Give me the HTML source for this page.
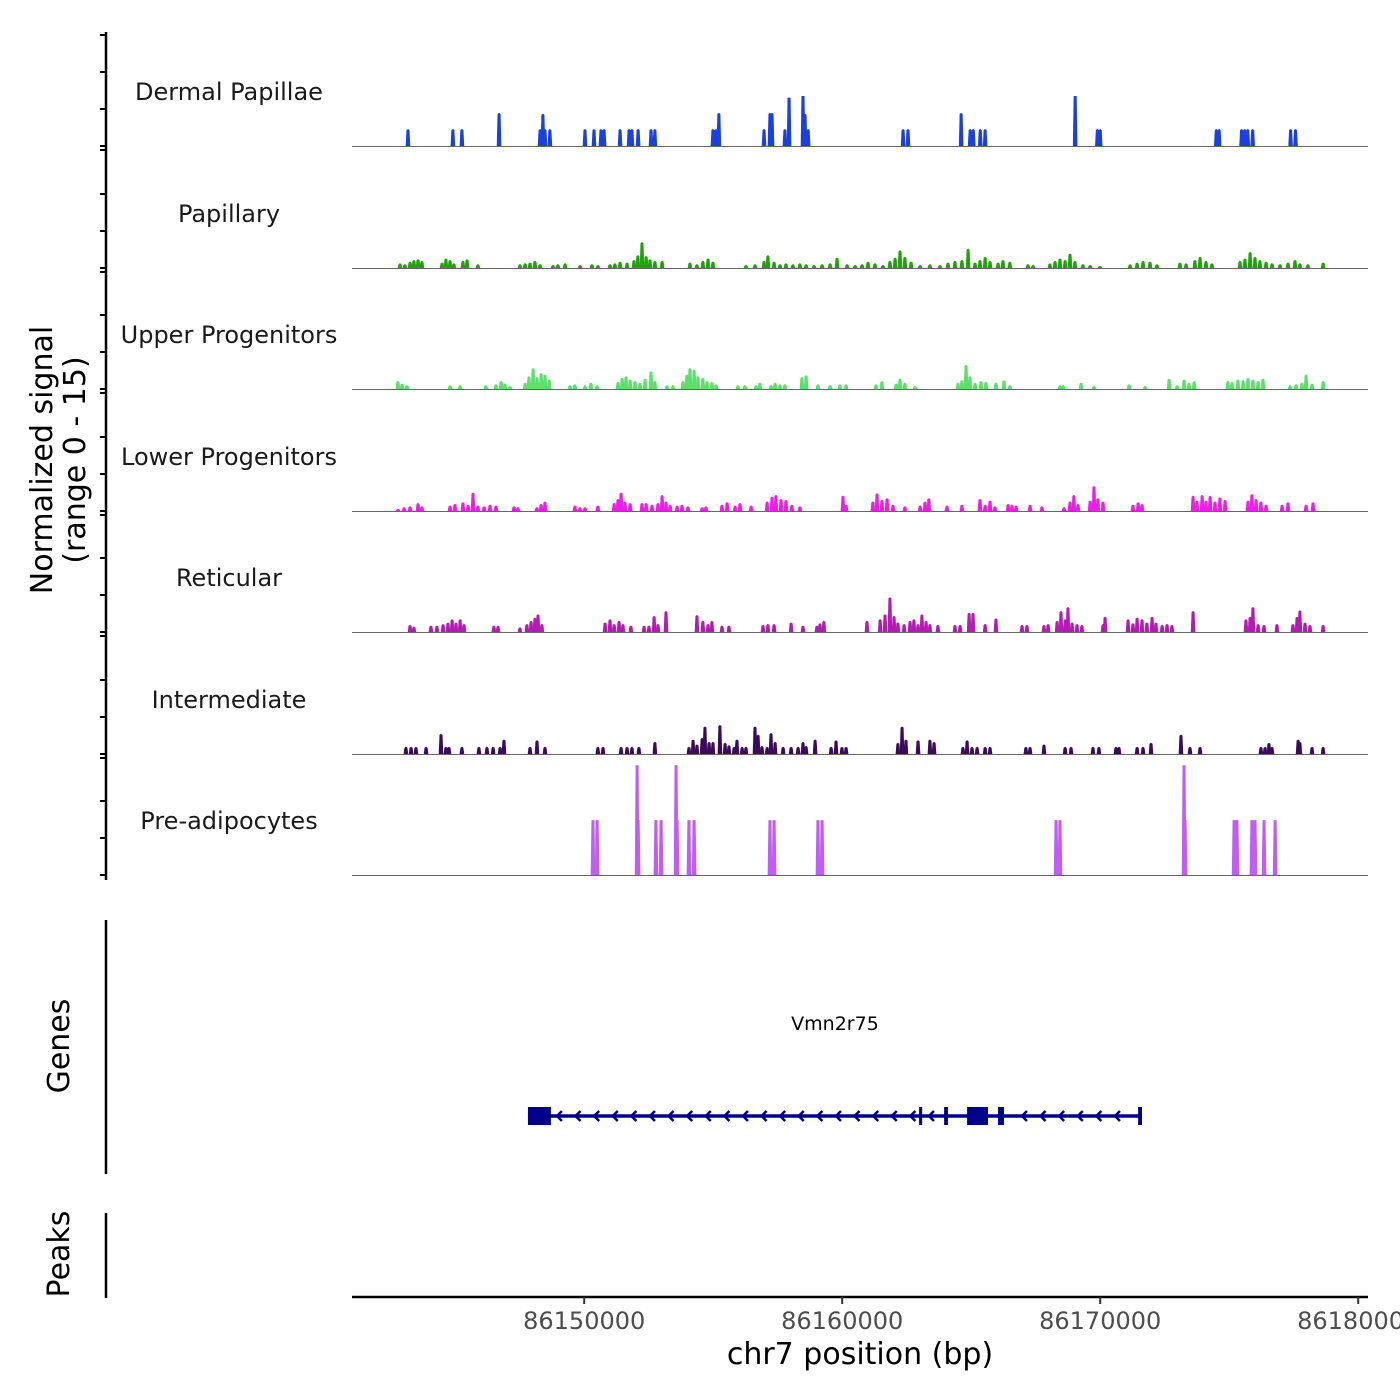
<!DOCTYPE html>
<html><head><meta charset="utf-8">
<style>
html,body{margin:0;padding:0;background:#fff;}
svg{display:block;font-family:"DejaVu Sans","Liberation Sans",sans-serif;}
</style></head>
<body>
<svg id="chart" width="1400" height="1400" viewBox="0 0 1400 1400" xmlns="http://www.w3.org/2000/svg">
<g id="tracks"></g>
<g id="yaxis"></g>
<text transform="translate(52,460) rotate(-90)" text-anchor="middle" font-size="30" fill="#000">Normalized signal</text>
<text transform="translate(85,460) rotate(-90)" text-anchor="middle" font-size="30" fill="#000">(range 0 - 15)</text>
<line x1="106" y1="920" x2="106" y2="1174" stroke="#000" stroke-width="2.5"/>
<text transform="translate(69,1046) rotate(-90)" text-anchor="middle" font-size="30" fill="#000">Genes</text>
<line x1="106" y1="1213" x2="106" y2="1298" stroke="#000" stroke-width="2.5"/>
<text transform="translate(69,1254) rotate(-90)" text-anchor="middle" font-size="30" fill="#000">Peaks</text>
<g id="genes"></g>
<g id="xaxis"></g>
<text x="860" y="1364" text-anchor="middle" font-size="30" fill="#000">chr7 position (bp)</text>
</svg>
<script>
// ---- data (positions in kb on chr7, signal in normalized units) ----
const trackNames = ["Dermal Papillae","Papillary","Upper Progenitors","Lower Progenitors","Reticular","Intermediate","Pre-adipocytes"];
const trackColors = ["#1a3fe2","#22a20a","#5ddf6b","#ec20e4","#b51bb3","#3b0a5c","#c25cf6"];
const xTicks = [86150,86160,86170,86180];
const xTickLabels = ["86150000","86160000","86170000","86180000"];

const dermal = [[86143.17,2.1],[86144.91,2.1],[86145.26,2.1],[86146.70,4.1],[86148.29,2.1],[86148.40,4.0],[86148.48,2.1],[86148.67,2.1],[86150.03,2.1],[86150.38,2.1],[86150.65,2.1],[86150.77,2.1],[86151.39,2.1],[86151.74,2.1],[86151.85,2.1],[86152.09,2.1],[86152.59,2.1],[86152.74,2.1],[86154.99,2.1],[86155.11,2.1],[86155.22,4.1],[86156.97,2.1],[86157.20,4.1],[86157.28,4.1],[86157.78,2.1],[86157.94,6.0],[86158.48,6.2],[86158.56,4.0],[86158.68,2.1],[86162.36,2.1],[86162.55,2.1],[86164.61,4.1],[86164.96,2.1],[86165.08,2.1],[86165.35,2.1],[86165.54,2.1],[86169.03,6.2],[86169.89,2.1],[86170.00,2.1],[86174.50,2.1],[86174.61,2.1],[86175.48,2.1],[86175.60,2.1],[86175.72,2.1],[86175.91,2.1],[86177.38,2.1],[86177.57,2.1]];

const papillary = [[86142.86,0.6],[86143.05,0.5],[86143.25,0.8],[86143.40,1.0],[86143.56,1.1],[86143.71,0.9],[86144.49,0.7],[86144.64,1.2],[86144.80,1.0],[86144.95,0.6],[86145.30,0.9],[86145.46,1.1],[86145.88,0.5],[86147.51,0.5],[86147.71,0.6],[86147.90,0.7],[86148.09,0.9],[86148.29,0.5],[86148.79,0.4],[86148.98,0.5],[86149.26,0.6],[86149.84,0.4],[86150.30,0.5],[86150.53,0.4],[86151.00,0.5],[86151.19,0.6],[86151.39,0.8],[86151.66,0.7],[86151.93,1.0],[86152.08,1.6],[86152.24,3.2],[86152.40,1.5],[86152.55,1.1],[86152.74,0.9],[86153.02,0.9],[86154.10,0.7],[86154.37,0.5],[86154.60,0.9],[86154.80,1.2],[86154.99,0.8],[86156.27,0.4],[86156.62,0.5],[86156.97,0.9],[86157.12,1.6],[86157.36,0.8],[86157.59,0.5],[86157.82,0.6],[86158.09,0.5],[86158.36,0.6],[86158.60,0.5],[86158.91,0.4],[86159.22,0.5],[86159.53,0.6],[86159.80,1.3],[86160.19,0.5],[86160.50,0.4],[86160.77,0.5],[86161.00,0.8],[86161.27,0.6],[86161.58,0.4],[86161.85,0.9],[86162.05,1.3],[86162.24,2.2],[86162.43,1.4],[86162.67,0.8],[86163.02,0.4],[86163.40,0.5],[86163.79,0.4],[86164.10,0.7],[86164.37,0.9],[86164.64,1.0],[86164.88,2.4],[86165.15,0.7],[86165.34,1.0],[86165.54,1.4],[86165.73,0.9],[86166.04,0.7],[86166.23,1.0],[86166.50,0.8],[86167.20,0.5],[86167.40,0.4],[86168.05,0.6],[86168.25,0.9],[86168.44,1.2],[86168.64,1.0],[86168.83,1.8],[86169.02,0.9],[86169.33,0.5],[86169.61,0.4],[86169.99,0.3],[86171.16,0.5],[86171.43,0.7],[86171.66,0.9],[86171.93,0.8],[86172.20,0.5],[86173.09,0.7],[86173.33,0.6],[86173.67,1.0],[86173.87,1.4],[86174.10,0.9],[86174.33,0.6],[86175.42,0.9],[86175.61,1.2],[86175.81,2.0],[86176.00,1.4],[86176.19,1.0],[86176.43,0.8],[86176.66,0.6],[86176.97,0.5],[86177.28,0.7],[86177.55,1.0],[86177.74,0.6],[86178.05,0.5],[86178.64,0.7]];

const upperProg = [[86142.78,1.0],[86142.94,0.7],[86143.13,0.5],[86144.80,0.5],[86145.19,0.5],[86146.19,0.5],[86146.58,0.6],[86146.78,1.0],[86146.93,0.7],[86147.12,0.4],[86147.71,0.8],[86147.86,1.6],[86148.02,2.6],[86148.17,1.5],[86148.33,2.0],[86148.48,1.8],[86148.64,1.2],[86149.45,0.5],[86149.64,0.6],[86150.03,0.5],[86150.26,0.8],[86150.50,0.5],[86151.31,0.9],[86151.47,1.4],[86151.62,1.6],[86151.78,1.2],[86151.97,1.0],[86152.16,0.8],[86152.36,1.3],[86152.59,2.2],[86152.74,1.0],[86153.21,0.5],[86153.44,0.5],[86153.83,1.0],[86153.98,1.8],[86154.10,2.6],[86154.26,2.4],[86154.41,1.6],[86154.60,1.4],[86154.76,1.0],[86154.95,0.9],[86155.11,0.6],[86155.96,0.5],[86156.23,0.5],[86156.66,0.5],[86156.81,0.8],[86157.24,0.5],[86157.40,0.8],[86157.59,0.6],[86157.78,0.6],[86158.44,1.5],[86158.60,1.7],[86159.06,0.6],[86159.53,0.5],[86159.91,0.6],[86160.15,0.6],[86161.31,0.6],[86161.54,1.0],[86162.09,0.7],[86162.24,1.3],[86162.43,0.8],[86162.82,0.4],[86164.49,0.8],[86164.64,1.1],[86164.80,3.0],[86164.95,1.6],[86165.15,0.8],[86165.38,1.0],[86165.57,0.9],[86165.96,0.8],[86166.27,1.1],[86166.50,0.5],[86168.44,0.5],[86168.56,0.5],[86169.26,0.8],[86169.76,0.4],[86171.12,0.6],[86171.74,0.4],[86172.67,1.3],[86172.98,0.5],[86173.25,1.2],[86173.44,0.8],[86173.64,1.0],[86174.95,1.0],[86175.11,0.9],[86175.34,1.2],[86175.54,1.1],[86175.73,1.4],[86175.92,1.2],[86176.12,1.0],[86176.31,1.3],[86177.36,0.5],[86177.59,0.6],[86177.82,0.8],[86177.98,1.8],[86178.21,0.7],[86178.64,1.0]];

const lowerProg = [[86142.78,0.3],[86143.02,0.5],[86143.25,0.6],[86143.56,1.0],[86143.71,0.6],[86144.80,0.7],[86144.99,0.9],[86145.30,1.1],[86145.50,0.8],[86145.69,2.3],[86145.88,0.7],[86146.12,0.6],[86146.35,0.8],[86146.58,0.7],[86147.28,0.6],[86147.43,0.5],[86148.17,0.5],[86148.33,0.9],[86148.48,1.2],[86149.64,0.7],[86149.84,0.5],[86150.03,0.5],[86150.53,0.7],[86151.16,1.0],[86151.31,1.5],[86151.43,2.3],[86151.58,1.2],[86151.78,1.0],[86152.24,1.0],[86152.40,1.0],[86152.63,0.8],[86152.86,1.0],[86153.02,2.0],[86153.17,1.2],[86153.33,0.8],[86153.60,0.7],[86153.79,0.8],[86154.02,0.6],[86154.57,0.5],[86154.72,0.6],[86155.34,0.8],[86155.54,1.1],[86155.85,0.7],[86156.04,1.0],[86156.47,0.7],[86157.09,1.2],[86157.28,1.8],[86157.43,2.0],[86157.63,1.5],[86157.82,1.4],[86158.05,0.8],[86158.36,0.6],[86160.03,1.9],[86160.15,0.8],[86161.19,1.2],[86161.35,2.2],[86161.54,1.4],[86161.74,1.6],[86161.97,0.8],[86162.43,0.6],[86163.02,0.7],[86163.21,1.2],[86163.36,1.6],[86164.06,0.7],[86164.64,0.8],[86165.34,1.5],[86165.54,0.8],[86165.73,1.3],[86165.92,0.6],[86166.43,0.9],[86166.58,0.8],[86166.74,0.7],[86167.28,0.8],[86167.74,0.6],[86168.60,0.5],[86168.83,1.2],[86168.98,2.0],[86169.14,0.9],[86169.61,1.3],[86169.76,3.1],[86169.91,1.6],[86170.11,1.2],[86171.27,0.8],[86171.47,1.1],[86171.62,0.9],[86173.60,1.9],[86173.75,1.3],[86173.95,2.0],[86174.10,1.3],[86174.26,1.9],[86174.45,1.2],[86174.64,1.7],[86174.84,1.4],[86175.73,1.3],[86175.88,2.1],[86176.04,1.5],[86176.23,1.2],[86176.43,0.8],[86177.05,0.8],[86177.28,1.1],[86177.98,0.8],[86178.25,1.1]];

const reticular = [[86143.25,0.9],[86143.40,0.7],[86144.06,0.8],[86144.29,0.8],[86144.53,1.0],[86144.72,1.2],[86144.88,1.6],[86145.03,1.2],[86145.19,1.6],[86145.34,1.0],[86146.50,0.8],[86146.66,0.8],[86147.51,0.6],[86147.78,1.0],[86147.94,1.4],[86148.09,1.8],[86148.21,2.2],[86148.36,1.0],[86150.81,1.2],[86151.00,1.6],[86151.16,1.0],[86151.35,1.4],[86151.50,1.0],[86151.81,0.8],[86152.32,0.8],[86152.51,0.8],[86152.71,2.0],[86152.86,1.0],[86153.17,2.6],[86154.37,2.1],[86154.60,1.4],[86154.80,1.0],[86154.95,1.4],[86155.34,0.8],[86155.61,0.8],[86156.93,0.9],[86157.12,1.0],[86157.36,1.0],[86158.02,1.2],[86158.48,0.8],[86159.02,0.8],[86159.14,1.1],[86159.29,1.4],[86160.96,1.4],[86161.47,1.6],[86161.66,2.2],[86161.85,4.3],[86162.01,2.0],[86162.16,1.2],[86162.40,1.0],[86162.63,1.4],[86162.78,1.6],[86162.94,1.0],[86163.09,2.2],[86163.25,1.4],[86163.40,1.0],[86163.71,0.9],[86164.37,0.9],[86164.57,0.9],[86164.92,2.4],[86165.07,2.4],[86165.54,1.0],[86165.96,1.7],[86166.97,0.9],[86167.16,0.9],[86167.82,0.9],[86167.98,1.0],[86168.33,1.4],[86168.48,2.6],[86168.64,1.6],[86168.75,3.1],[86168.91,1.2],[86169.10,1.0],[86169.29,0.9],[86170.11,1.0],[86170.19,1.9],[86171.08,1.6],[86171.27,1.1],[86171.43,1.8],[86171.62,1.6],[86171.81,1.2],[86172.01,1.9],[86172.16,1.2],[86172.40,0.9],[86172.59,1.0],[86172.78,0.9],[86173.60,2.6],[86175.65,1.6],[86175.81,1.9],[86175.92,3.1],[86176.12,1.0],[86176.35,0.9],[86176.85,1.0],[86177.47,1.0],[86177.63,1.9],[86177.74,2.7],[86177.94,1.2],[86178.13,0.9],[86178.64,0.9]];

const intermediate = [[86143.09,0.9],[86143.29,0.9],[86143.48,0.9],[86143.87,0.9],[86144.45,2.5],[86144.64,0.9],[86144.76,0.9],[86145.26,0.9],[86145.92,0.9],[86146.23,0.9],[86146.47,0.9],[86146.74,0.9],[86146.89,1.8],[86147.90,0.9],[86148.17,1.7],[86148.48,0.9],[86150.53,0.9],[86150.73,0.9],[86151.43,0.9],[86151.66,0.9],[86151.85,0.9],[86152.12,0.9],[86152.74,1.5],[86154.06,0.9],[86154.22,1.8],[86154.37,1.2],[86154.57,2.0],[86154.68,3.4],[86154.84,1.5],[86154.99,1.5],[86155.26,3.6],[86155.46,1.4],[86155.61,1.1],[86155.81,0.9],[86155.92,1.8],[86156.12,0.9],[86156.27,0.9],[86156.62,3.4],[86156.74,2.4],[86156.89,1.0],[86157.09,0.9],[86157.24,2.6],[86157.40,1.5],[86157.71,0.9],[86158.02,0.9],[86158.29,0.9],[86158.48,1.5],[86158.60,1.0],[86158.95,1.8],[86159.57,0.9],[86159.76,1.7],[86159.99,0.9],[86160.15,0.9],[86162.16,1.4],[86162.32,3.4],[86162.47,1.8],[86162.94,1.7],[86163.40,1.8],[86163.56,1.5],[86164.68,0.9],[86164.84,1.7],[86165.03,0.9],[86165.23,0.9],[86165.54,0.9],[86165.73,0.9],[86167.12,0.9],[86167.28,0.9],[86167.82,1.2],[86168.64,0.9],[86168.87,0.9],[86169.72,0.9],[86169.95,0.9],[86170.61,0.9],[86170.73,0.9],[86171.43,0.9],[86171.66,0.9],[86171.97,1.4],[86173.13,2.4],[86173.48,0.9],[86173.87,0.9],[86176.23,0.9],[86176.39,0.9],[86176.54,1.4],[86176.66,0.9],[86177.67,1.8],[86177.74,1.5],[86178.21,0.9],[86178.64,0.9]];

const preAdipo = [[86150.34,6.8],[86150.50,6.8],[86152.05,13.6],[86152.09,6.8],[86152.78,6.8],[86152.98,6.8],[86153.56,13.6],[86153.60,6.8],[86154.06,6.8],[86154.26,6.8],[86157.20,6.8],[86157.36,6.8],[86159.06,6.8],[86159.22,6.8],[86168.29,6.8],[86168.44,6.8],[86173.25,13.6],[86173.29,6.8],[86175.19,6.8],[86175.30,6.8],[86175.88,6.8],[86176.00,6.8],[86176.35,6.8],[86176.78,6.8]];

const geneName = "Vmn2r75";
const geneStart = 86147.82, geneEnd = 86171.62;
const geneExons = [[86147.82,86148.71],[86162.98,86163.10],[86163.95,86164.10],[86164.84,86165.65],[86166.04,86166.27],[86171.47,86171.62]];

// ---- layout ----
const NS = "http://www.w3.org/2000/svg";
const X0 = 352, X1 = 1368, KB0 = 86141.0, PXKB = 25.8;
function xs(kb){ return X0 + (kb - KB0) * PXKB; }
const baselines = [146, 268, 389, 511, 632, 754, 875];
const PXUNIT = 8.07;
function ys(i, v){ return baselines[i] - Math.min(v, 15) * PXUNIT; }
const seriesList = [dermal, papillary, upperProg, lowerProg, reticular, intermediate, preAdipo];
function mk(tag, attrs, parent){ const e = document.createElementNS(NS, tag); for (const k in attrs) e.setAttribute(k, attrs[k]); parent.appendChild(e); return e; }

const tracksG = document.getElementById('tracks');
seriesList.forEach((ser, i) => {
  const g = mk('g', {}, tracksG);
  
  
  const lab = mk('text', {x: 229, y: baselines[i] - 46, 'text-anchor': 'middle', 'font-size': 24, fill: '#1a1a1a'}, g);
  lab.textContent = trackNames[i];
  
  
  ser.forEach(p => {
    const cx = xs(p[0]), top = ys(i, p[1]), b = baselines[i];
    const w = 1.5;
    const poly = mk('polygon', {points: `${cx-w-0.8},${b} ${cx-w},${top + (p[1]>5?0:1)} ${cx},${top} ${cx+w},${top + (p[1]>5?0:1)} ${cx+w+0.8},${b}`, fill: trackColors[i]}, g);
    
    
  });
  const bl = mk('line', {x1: X0, y1: baselines[i] + 0.5, x2: X1, y2: baselines[i] + 0.5, stroke: '#666', 'stroke-width': 1}, g);
  
  
});

// y axis with ticks
const yG = document.getElementById('yaxis');
const ya = mk('line', {x1: 106, y1: 32, x2: 106, y2: 880, stroke: '#000', 'stroke-width': 2.5}, yG);


baselines.forEach((b, i) => {
  const tops = [b, b - 37, b - 74, i === 0 ? b - 111 : baselines[i-1] + 4];
  tops.forEach(t => {
    const tk = mk('line', {x1: 100, y1: t, x2: 106, y2: t, stroke: '#000', 'stroke-width': 2}, yG);
    
    
  });
});

// gene
const gG = document.getElementById('genes');
const gy = 1116;
const gl = mk('line', {x1: xs(geneStart), y1: gy, x2: xs(geneEnd), y2: gy, stroke: '#00008b', 'stroke-width': 3.5}, gG);


for (let x = xs(geneStart) + 30; x < xs(geneEnd) - 8; x += 18.6) {
  let inside = geneExons.some(e => x > xs(e[0]) - 6 && x < xs(e[1]) + 6);
  if (inside) continue;
  const ch = mk('polyline', {points: `${x+4},${gy-5} ${x-1},${gy} ${x+4},${gy+5}`, fill: 'none', stroke: '#00008b', 'stroke-width': 2.5}, gG);
  
  
}
geneExons.forEach(e => {
  const r = mk('rect', {x: xs(e[0]), y: gy - 9, width: Math.max(2.5, xs(e[1]) - xs(e[0])), height: 18, fill: '#00008b'}, gG);
  
  
});
const gt = mk('text', {x: (xs(geneStart) + xs(geneEnd)) / 2, y: 1030, 'text-anchor': 'middle', 'font-size': 19, fill: '#000'}, gG);
gt.textContent = geneName;



// x axis
const xG = document.getElementById('xaxis');
const xa = mk('line', {x1: X0, y1: 1297, x2: X1, y2: 1297, stroke: '#000', 'stroke-width': 2.5}, xG);


xTicks.forEach((t, i) => {
  const x = xs(t);
  const tk = mk('line', {x1: x, y1: 1297, x2: x, y2: 1304, stroke: '#333', 'stroke-width': 2}, xG);
  
  
  const tl = mk('text', {x: x, y: 1329, 'text-anchor': 'middle', 'font-size': 24, fill: '#4d4d4d'}, xG);
  tl.textContent = xTickLabels[i];
  
  
});
</script>
</body></html>
